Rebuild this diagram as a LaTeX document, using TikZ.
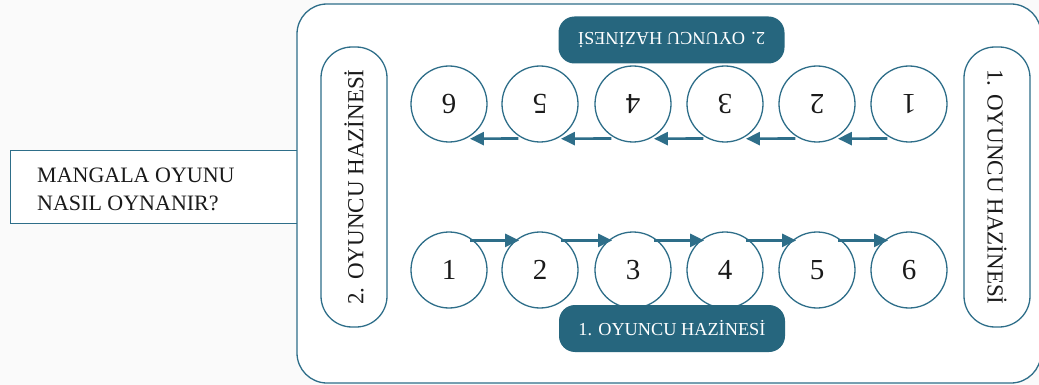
\documentclass[tikz,border=0pt]{standalone}
\usepackage{fontspec}
\setmainfont{Liberation Serif}
\usepackage{graphicx}
\usetikzlibrary{arrows.meta}

\definecolor{mgline}{HTML}{2E6E89}
\definecolor{mgfill}{HTML}{26667E}
\definecolor{mgtext}{HTML}{1A1A1A}
\definecolor{mgbg}{HTML}{FAFAFA}

\tikzset{
  frameline/.style={draw=mgline, line width=1.3pt},
  pit/.style={circle, frameline, fill=white, minimum size=76pt, inner sep=0pt,
    text=mgtext, font=\fontsize{29}{34}\selectfont},
  sidepill/.style={frameline, fill=white, rounded corners=31pt, minimum width=280pt,
    minimum height=66pt, inner sep=0pt, text=mgtext, font=\fontsize{23}{27}\selectfont},
  darkpill/.style={fill=mgfill, rounded corners=16pt, minimum width=226pt,
    minimum height=47pt, inner sep=0pt, text=white, font=\fontsize{18.3}{22}\selectfont},
  move/.style={draw=mgline, line width=2.6pt, -{Triangle[length=14pt,width=13pt]}},
}

\begin{document}
\begin{tikzpicture}[x=1pt, y=-1pt]
  \useasboundingbox (0,0) rectangle (1039,385);
  \fill[mgbg] (0,0) rectangle (1039,385);

  % title box on the left
  \node[frameline, fill=white, minimum width=288pt, minimum height=73pt, inner sep=0pt,
        anchor=north west] (titlebox) at (10,150) {};
  \node[anchor=north west, inner sep=0pt, align=left, text=mgtext,
        font=\fontsize{22}{28.4}\selectfont] (titletext) at (37,167.8)
        {MANGALA OYUNU\\NASIL OYNANIR?};

  % board
  \draw[frameline, fill=white, rounded corners=30pt] (297,4) rectangle (1041,383);

  % stores
  \node[sidepill, rotate=90]  (store2) at (354,187) {2. OYUNCU HAZİNESİ};
  \node[sidepill, rotate=-90] (store1) at (997,187) {1. OYUNCU HAZİNESİ};

  % pits of the upper row (seen from the other side)
  \node[pit] (t6) at (449,104) {\rotatebox[origin=c]{180}{6}};
  \node[pit] (t5) at (540,104) {\rotatebox[origin=c]{180}{5}};
  \node[pit] (t4) at (633,104) {\rotatebox[origin=c]{180}{4}};
  \node[pit] (t3) at (725,104) {\rotatebox[origin=c]{180}{3}};
  \node[pit] (t2) at (817,104) {\rotatebox[origin=c]{180}{2}};
  \node[pit] (t1) at (909,104) {\rotatebox[origin=c]{180}{1}};

  % pits of the lower row
  \node[pit] (b1) at (449,270) {1};
  \node[pit] (b2) at (540,270) {2};
  \node[pit] (b3) at (633,270) {3};
  \node[pit] (b4) at (725,270) {4};
  \node[pit] (b5) at (817,270) {5};
  \node[pit] (b6) at (909,270) {6};

  % treasury labels
  \node[darkpill, rotate=180] (lab2) at (671.5,40) {2. OYUNCU HAZİNESİ};
  \node[darkpill] (lab1) at (672,328.5) {1. OYUNCU HAZİNESİ};

  % sowing direction, upper row
  \foreach \a/\b in {t1/t2, t2/t3, t3/t4, t4/t5, t5/t6}
    \draw[move, shorten <=4pt, shorten >=4pt] (\a.243.5) -- (\b.296.5);

  % sowing direction, lower row
  \foreach \a/\b in {b1/b2, b2/b3, b3/b4, b4/b5, b5/b6}
    \draw[move, shorten <=-4pt, shorten >=-4pt] (\a.50) -- (\b.130);
\end{tikzpicture}
\end{document}
